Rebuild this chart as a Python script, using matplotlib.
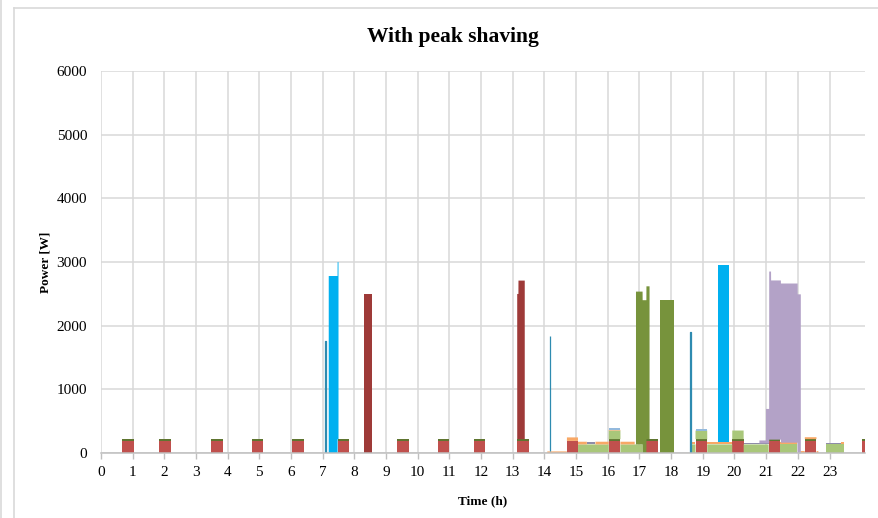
import numpy as np
import matplotlib
matplotlib.use("Agg")
import matplotlib.pyplot as plt
from matplotlib.lines import Line2D

# ---------------- data (hours, watts) ----------------
fridge_start = [0.67, 1.83, 3.47, 4.78, 6.03, 7.47, 9.34, 10.65, 11.79, 13.14, 14.71, 16.03, 17.22, 18.77, 19.93, 21.08, 22.22, 24.02]
fridge_end   = [1.05, 2.21, 3.84, 5.13, 6.40, 7.84, 9.72, 11.00, 12.14, 13.52, 15.06, 16.40, 17.59, 19.14, 20.29, 21.45, 22.59, 24.40]
fridge_power = [190] * 18

freezer_start = [0.67, 1.83, 3.47, 4.78, 6.03, 7.47, 9.34, 10.65, 11.79, 13.14, 16.03, 17.22, 18.77, 19.93, 21.08, 22.22, 24.02]
freezer_end   = [1.05, 2.21, 3.84, 5.13, 6.40, 7.84, 9.72, 11.00, 12.14, 13.52, 16.40, 17.59, 19.14, 20.29, 21.45, 22.59, 24.40]
freezer_power = [28] * 17

light_start = [15.06, 18.65, 21.45, 22.90]
light_end   = [17.10, 21.08, 21.98, 23.45]
light_power = [135, 135, 135, 135]

orange_start = [14.09, 14.71, 15.06, 15.61, 16.03, 16.40, 18.65, 19.14, 21.45, 22.08, 23.35]
orange_end   = [14.71, 15.06, 15.34, 16.03, 16.40, 16.85, 18.77, 19.93, 21.98, 22.65, 23.45]
orange_power = [25, 55, 42, 42, 10, 42, 42, 42, 35, 30, 40]

grey_start = [14.09, 15.34, 20.29, 22.90]
grey_end   = [14.71, 15.61, 21.08, 23.35]
grey_power = [12, 30, 25, 18]

smallblue_start = [16.03, 18.77]
smallblue_end   = [16.40, 19.14]
smallblue_power = [30, 30]

kettle_start = [7.19, 19.47]
kettle_end   = [7.50, 19.82]
kettle_power = [2780, 2770]

oven_start = [8.29, 13.14, 13.18]
oven_end   = [8.56, 13.18, 13.38]
oven_power = [2500, 2280, 2490]

washer_start = [16.89, 17.64]
washer_end   = [17.32, 18.08]
washer_power = [2400, 2400]

dryer_start = [20.77, 20.98, 21.08, 21.14, 21.98]
dryer_end   = [20.98, 21.08, 21.14, 21.98, 22.08]
dryer_power = [45, 540, 2640, 2500, 2500]

spike_start = [7.08, 14.16, 18.61]
spike_end   = [7.11, 14.19, 18.64]
spike_power = [1760, 1800, 1900]

x_ticks = list(range(0, 24))
y_ticks = [0, 1000, 2000, 3000, 4000, 5000, 6000]

series = [
    (fridge_start, fridge_end, fridge_power, "#C0504D", 0),
    (freezer_start, freezer_end, freezer_power, "#5F7530", 0),
    (light_start, light_end, light_power, "#A9C77A", 0),
    (orange_start, orange_end, orange_power, "#F8A866", 0),
    (grey_start, grey_end, grey_power, "#8E8CA8", 0),
    (smallblue_start, smallblue_end, smallblue_power, "#93B9DD", 0),
    (kettle_start, kettle_end, kettle_power, "#00B0F0", 0),
    (oven_start, oven_end, oven_power, "#9E3A38", 0),
    (washer_start, washer_end, washer_power, "#77933C", 0),
    (dryer_start, dryer_end, dryer_power, "#B3A2C7", 0),
    (spike_start, spike_end, spike_power, "#2E8BB0", 0.9),
]

# ---------------- figure ----------------
W, H = 879, 518
fig = plt.figure(figsize=(W / 100, H / 100), dpi=100)
fig.patch.set_facecolor("white")
plt.rcParams["font.family"] = ["Liberation Serif", "DejaVu Serif"]

ax = fig.add_axes([101 / W, 1 - 453 / H, (865 - 101) / W, (453 - 71) / H])

t = np.arange(0, 24.15, 0.002)
base = np.zeros_like(t)
for starts, ends, powers, color, lw in series:
    vals = np.zeros_like(t)
    for s, e, p in zip(starts, ends, powers):
        vals[(t >= s) & (t < e)] += p
    top = base + vals
    ax.fill_between(t, base, top, where=vals > 0, facecolor=color, edgecolor=color,
                    linewidth=lw, zorder=3, interpolate=False)
    base = top

ax.set_xlim(0, 24.12)
ax.set_ylim(0, 6000)
ax.set_xticks(x_ticks)
ax.set_yticks(y_ticks)
ax.set_xticklabels([str(v) for v in x_ticks], fontsize=11)
ax.set_yticklabels([str(v) for v in y_ticks], fontsize=11)
ax.grid(True, color="#D9D9D9", linewidth=1.1, zorder=0)
ax.set_axisbelow(True)
for s in ["top", "right", "left"]:
    ax.spines[s].set_visible(False)
ax.spines["bottom"].set_color("#BFBFBF")
ax.spines["bottom"].set_linewidth(1.1)
ax.spines["bottom"].set_zorder(4)
ax.tick_params(axis="x", length=4, color="#BFBFBF", width=1, pad=5, direction="out")
ax.tick_params(axis="y", length=0, pad=10)

ax.set_xlabel("Time (h)", fontsize=9.5, fontweight="bold", labelpad=12)
ax.set_ylabel("Power [W]", fontsize=9.5, fontweight="bold", labelpad=4)
fig.text(453 / W, 1 - 37 / H, "With peak shaving", ha="center", va="center",
         fontsize=15.5, fontweight="bold")

# chart-area border
fig.add_artist(Line2D([14 / W, 14 / W], [0, 1 - 8 / H], color="#D9D9D9", lw=1.2, transform=fig.transFigure))
fig.add_artist(Line2D([14 / W, 1], [1 - 8 / H, 1 - 8 / H], color="#D9D9D9", lw=1.2, transform=fig.transFigure))
fig.add_artist(Line2D([1.5 / W, 1.5 / W], [0, 1], color="#D9D9D9", lw=1.2, transform=fig.transFigure))

fig.savefig("out.png", dpi=100, facecolor="white")
